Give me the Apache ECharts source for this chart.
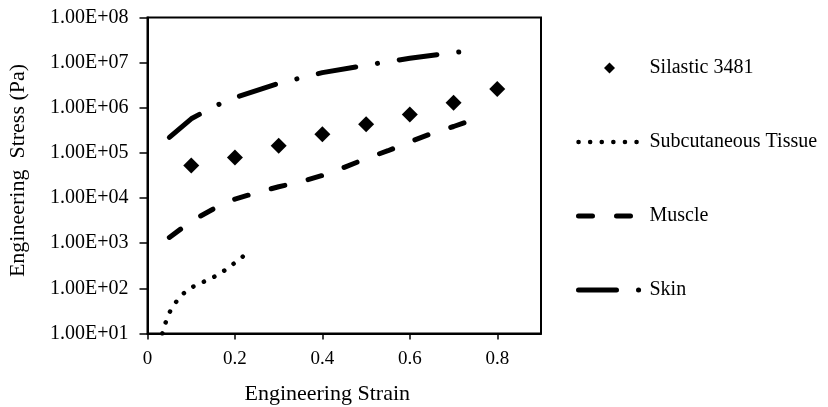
<!DOCTYPE html>
<html>
<head>
<meta charset="utf-8">
<script src="https://cdn.jsdelivr.net/npm/echarts@6/dist/echarts.min.js"></script>
<style>
  html, body { margin: 0; padding: 0; background: #fff; }
  #box { width: 828px; height: 407px; }
</style>
</head>
<body>
<div id="box"></div>
<script>
// values
const seriesNames = ['Silastic 3481', 'Subcutaneous Tissue', 'Muscle', 'Skin']

const silasticX = [0.1, 0.2, 0.3, 0.4, 0.5, 0.6, 0.7, 0.8]
const silasticY = [5.3e4, 7.9e4, 1.45e5, 2.6e5, 4.3e5, 7.1e5, 1.3e6, 2.6e6]

const subcutX = [0.034, 0.04, 0.05, 0.063, 0.08, 0.1, 0.125, 0.15, 0.175, 0.2, 0.22, 0.235]
const subcutY = [10, 16, 29, 47, 74, 104, 135, 174, 245, 369, 525, 700]

const muscleX = [0.05, 0.1, 0.15, 0.2, 0.25, 0.3, 0.35, 0.4, 0.45, 0.5, 0.55, 0.6, 0.65, 0.7, 0.755]
const muscleY = [1.34e3, 3.07e3, 5.7e3, 9.5e3, 1.32e4, 1.78e4, 2.29e4, 3.17e4, 4.8e4, 7.5e4, 1.12e5, 1.76e5, 2.7e5, 3.85e5, 5.9e5]

const skinX = [0.05, 0.1, 0.15, 0.2, 0.3, 0.4, 0.5, 0.6, 0.7, 0.74]
const skinY = [2.2e5, 5.7e5, 1.05e6, 1.68e6, 3.5e6, 6.0e6, 8.8e6, 1.25e7, 1.68e7, 1.85e7]

const xTicks = [0, 0.2, 0.4, 0.6, 0.8]
const yTickLabels = ['1.00E+01', '1.00E+02', '1.00E+03', '1.00E+04', '1.00E+05', '1.00E+06', '1.00E+07', '1.00E+08']

const font = "'Liberation Serif', 'Times New Roman', serif"

// dash patterns for the three lines
const dotted = { color: '#000', width: 4.5, type: [0.1, 11.5], cap: 'round' }
const dashed = { color: '#000', width: 5, type: [14, 24], cap: 'round' }
const dashDot = { color: '#000', width: 5, type: [38, 22, 0.1, 22], cap: 'round' }

function pairs(xs, ys) {
  return xs.map((x, i) => [x, ys[i]])
}

var myChart = echarts.init(document.getElementById('box'))
myChart.setOption({
  animation: false,
  grid: {
    left: 147.5,
    top: 17.5,
    width: 393.5,
    height: 316,
    outerBoundsMode: 'none',
    show: true,
    borderColor: '#000',
    borderWidth: 2
  },
  legend: {
    orient: 'vertical',
    left: 576,
    top: 58,
    padding: 0,
    itemWidth: 62,
    itemHeight: 11,
    itemGap: 54,
    textStyle: {
      fontFamily: font,
      fontSize: 20,
      color: '#000',
      padding: [0, 0, 0, 4]
    },
    data: [
      { name: seriesNames[0], icon: 'path://M0,-1L1,0L0,1L-1,0Z', itemStyle: { color: '#000', opacity: 1 } },
      { name: seriesNames[1], itemStyle: { opacity: 0 }, lineStyle: dotted },
      { name: seriesNames[2], itemStyle: { opacity: 0 }, lineStyle: dashed },
      { name: seriesNames[3], itemStyle: { opacity: 0 }, lineStyle: dashDot }
    ]
  },
  xAxis: {
    type: 'value',
    min: 0,
    max: 0.9,
    interval: 0.2,
    name: 'Engineering Strain',
    nameLocation: 'middle',
    nameGap: 50,
    nameTextStyle: {
      fontFamily: font,
      fontSize: 22,
      color: '#000',
      padding: [0, 34, 0, 0]
    },
    axisLine: { lineStyle: { color: '#000', width: 2 } },
    axisTick: {
      customValues: xTicks,
      length: 6,
      lineStyle: { color: '#000', width: 1.5 }
    },
    axisLabel: {
      customValues: xTicks,
      margin: 16,
      fontFamily: font,
      fontSize: 19,
      color: '#000'
    },
    splitLine: { show: false }
  },
  yAxis: {
    type: 'log',
    logBase: 10,
    min: 10,
    max: 1e8,
    name: 'Engineering  Stress (Pa)',
    nameLocation: 'middle',
    nameRotate: 90,
    nameGap: 118,
    nameTextStyle: {
      fontFamily: font,
      fontSize: 22,
      color: '#000',
      padding: [0, 0, 0, 10]
    },
    axisLine: { show: true, lineStyle: { color: '#000', width: 2 } },
    axisTick: {
      show: true,
      length: 8,
      lineStyle: { color: '#000', width: 1.5 }
    },
    axisLabel: {
      margin: 19,
      fontFamily: font,
      fontSize: 20,
      color: '#000',
      formatter: v => yTickLabels[Math.round(Math.log10(v)) - 1]
    },
    splitLine: { show: false },
    minorTick: { show: false }
  },
  series: [
    {
      name: seriesNames[0],
      type: 'scatter',
      symbol: 'diamond',
      symbolSize: 16,
      itemStyle: { color: '#000', opacity: 1 },
      data: pairs(silasticX, silasticY)
    },
    {
      name: seriesNames[1],
      type: 'line',
      symbol: 'none',
      color: '#000',
      lineStyle: dotted,
      data: pairs(subcutX, subcutY)
    },
    {
      name: seriesNames[2],
      type: 'line',
      symbol: 'none',
      color: '#000',
      lineStyle: dashed,
      data: pairs(muscleX, muscleY)
    },
    {
      name: seriesNames[3],
      type: 'line',
      symbol: 'none',
      color: '#000',
      lineStyle: dashDot,
      data: pairs(skinX, skinY)
    }
  ]
})
</script>
</body>
</html>
